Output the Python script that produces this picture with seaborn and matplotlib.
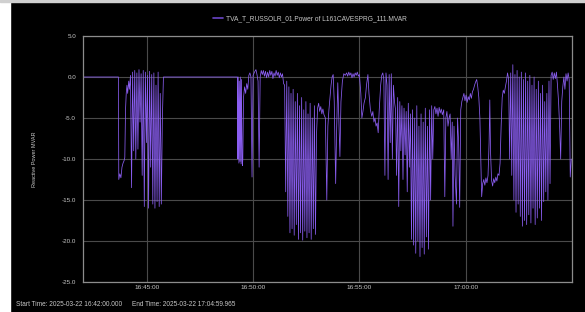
import pandas as pd
import matplotlib
matplotlib.use('Agg')
import matplotlib.pyplot as plt
import matplotlib.dates as mdates
from matplotlib.patches import Rectangle
import seaborn as sns

# Тексты графика
START = '2025-03-22 16:42:00.000'
END = '2025-03-22 17:04:59.965'
SERIES = 'TVA_T_RUSSOLR_01.Power of L161CAVESPRG_111.MVAR'
Y_LABEL = 'Reactive Power MVAR'
Y_TICKS = [5.0, 0.0, -5.0, -10.0, -15.0, -20.0, -25.0]
X_TICKS = ['16:45:00', '16:50:00', '16:55:00', '17:00:00']

# Секунды от начала записи и значения MVAR
t_sec = [
    0, 1, 100,
    101, 104, 107, 110, 113, 116, 118, 120, 122, 124,
    126, 129, 131, 134, 137, 140, 143, 146, 149, 152, 155, 158, 161, 164, 167, 170, 173, 176,
    179, 182, 185, 188, 191, 194, 197, 200, 203, 206, 209, 212, 215, 218, 221, 224, 227,
    228, 436,
    437, 438, 440, 441, 443, 444, 446, 447, 449, 450, 451,
    453, 456, 459, 462, 465, 468, 471, 474, 477, 480, 484, 488, 491, 494, 497, 500, 503,
    506, 509, 512, 515, 518, 521, 524, 527, 530, 533, 536, 539, 542, 545, 548, 551, 554, 557,
    560, 563, 566,
    569, 572, 575, 578, 581, 584, 587, 590, 593, 596, 599, 602, 605, 608, 611, 614, 617, 620,
    623, 626, 629, 632, 635, 638, 641, 644, 647, 650, 653, 656, 659,
    662, 665, 668, 671, 674, 677, 680, 684, 688, 691, 694, 697, 700, 703, 706, 709, 713, 716,
    719, 722, 725, 728, 732, 736,
    740, 744, 747, 750, 753, 756, 759, 762, 765, 768, 771, 774, 777, 780, 784, 787, 790, 793,
    797, 800, 804, 807,
    811, 815, 818, 821, 824, 827, 830, 833, 836, 840, 843, 846, 849, 852, 855, 858, 861, 864,
    867, 870, 873, 876, 879,
    882, 885, 888, 891, 894, 897, 900, 903, 906, 909, 912, 915, 918, 921, 924,
    927, 930, 933, 936, 939, 942, 945, 948, 951, 954, 957, 960, 963, 966, 969, 972, 975, 978,
    981, 984, 987,
    990, 993, 996, 999, 1002, 1005, 1008, 1011, 1014,
    1018, 1021, 1024, 1027, 1030, 1033, 1036, 1039, 1042, 1044, 1047, 1050, 1054, 1057, 1060,
    1063, 1066, 1069,
    1072, 1075, 1078, 1081, 1084, 1087, 1090, 1093, 1096, 1099, 1102, 1105, 1108, 1111, 1114,
    1117, 1120,
    1125, 1128, 1131, 1134, 1137, 1140, 1143, 1146, 1148, 1150, 1153, 1156, 1159, 1162, 1165,
    1168, 1171, 1174, 1177, 1180,
    1183, 1186, 1189, 1192, 1195, 1198, 1201,
    1204, 1207, 1210, 1213, 1216, 1219, 1222, 1225, 1228, 1231, 1234, 1237, 1240, 1243, 1246,
    1249, 1252, 1255, 1258, 1261, 1264, 1267, 1270, 1273, 1276, 1279, 1282, 1285, 1288, 1291,
    1294, 1297, 1300, 1303, 1306, 1309, 1312, 1315,
    1318, 1321, 1324, 1327, 1330, 1333, 1336, 1339, 1342, 1345, 1348, 1351, 1354, 1357, 1360,
    1363, 1366, 1369, 1372, 1375, 1378,
]
mvar = [
    -19.5, 0.0, 0.0,
    -12.5, -11.8, -12.3, -11.0, -10.5, -10.2, -9.8, -4.0, -2.0, -1.0,
    -2.0, -0.5, -1.5, 0.2, -13.5, 0.6, -9.0, 0.8, -10.0, 0.5, -8.8, 0.9, -5.5, 0.4, -12.0, 0.8, -15.8, 0.6,
    -8.0, 0.2, -16.0, 0.7, -11.0, 0.3, -15.5, 0.5, -16.0, -1.0, -15.2, 0.6, -15.8, -2.0, -15.5, -5.0, 0.0,
    0.0, 0.0,
    -10.0, 0.0, -10.5, -0.5, -10.3, 0.0, -10.6, -0.3, -10.2, -10.8, -10.0,
    -2.5, -1.2, -2.0, -0.8, -1.5, 0.2, 0.5, 0.0, -12.2, 0.2, 0.6, 0.9, 0.3, -0.5, -11.0, 0.0, 0.8,
    0.3, 0.8, 0.1, 0.7, -0.1, 0.6, 0.0, 0.8, 0.2, 0.7, -0.2, 0.5, 0.1, 0.8, 0.2, 0.6, -0.1, 0.5,
    0.0, 0.4, -0.8,
    -1.0, -14.0, -0.5, -17.0, -1.2, -19.0, -2.0, -18.5, -1.5, -19.3, -3.0, -18.0, -2.0, -19.8, -3.5, -19.0, -2.5, -19.9,
    -4.0, -18.8, -3.0, -19.6, -4.5, -19.0, -3.2, -19.8, -5.0, -18.5, -3.5, -19.2, -7.0,
    -3.8, -3.2, -4.2, -3.6, -4.5, -3.9, -4.6, -5.0, -15.0, -6.0, -4.0, -2.5, -1.0, 0.0, 0.3, -3.0, -13.0, -6.0,
    -0.7, -5.0, -9.7, -3.0, -0.5, 0.4,
    0.2, 0.5, 0.1, 0.6, 0.2, 0.5, -0.1, 0.4, 0.0, 0.5, 0.2, 0.6, 0.1, 0.3, -2.0, -5.0, -4.2, -3.2,
    -2.5, -1.0, 0.3, -2.0,
    -4.0, -4.8, -4.2, -5.5, -5.0, -6.0, -5.6, -6.8, -4.0, -1.0, 0.2, 0.5, -0.3, -12.0, 0.5, -1.0, -12.5, 0.3,
    -8.0, 0.4, -10.0, -1.0, -3.0,
    -4.0, -12.0, -2.5, -15.8, -3.0, -9.0, -3.5, -12.5, -3.8, -9.5, -4.2, -14.0, -3.2, -11.0, -4.5,
    -19.8, -4.0, -20.5, -5.0, -21.5, -3.5, -20.0, -6.0, -21.9, -4.5, -20.8, -5.5, -21.6, -3.8, -19.5, -6.0, -21.0, -4.0,
    -15.0, -3.5, -10.0,
    -4.0, -3.6, -4.5, -3.8, -4.8, -3.7, -4.4, -3.9, -4.6,
    -4.0, -14.6, -5.0, -4.2, -6.0, -5.0, -4.5, -10.0, -5.5, -18.2, -6.0, -12.0, -15.5, -5.0, -8.0,
    -15.9, -4.0, -3.0,
    -2.5, -2.0, -2.9, -2.2, -3.1, -2.4, -2.8, -2.0, -2.6, -1.8, -1.5, -1.0, -0.6, -0.3, -1.2,
    -2.5, -5.0,
    -14.6, -13.0, -12.5, -13.2, -12.3, -12.9, -12.0, -8.0, -2.8, -9.0, -12.6, -13.3, -12.4, -12.9, -12.2,
    -12.7, -11.8, -12.0, -10.5, -6.0,
    -2.5, -1.6, -2.0, -1.2, -0.5, 0.5, -0.2,
    -10.0, 0.5, -12.0, 1.5, -15.0, 0.3, -16.5, 0.8, -15.5, 0.0, -17.0, 0.6, -18.2, -0.3, -17.5,
    0.5, -18.0, -0.5, -16.8, 0.2, -17.8, -1.0, -16.0, 0.0, -18.0, -1.5, -17.2, -0.5, -16.0, -2.0,
    -17.5, -1.0, -15.2, -3.0, -14.0, -2.0, -15.0, -0.5,
    -13.0, 0.2, 0.6, -0.3, 0.5, -0.2, 0.6, -1.0, -3.0, -6.0, -10.0, -3.0, -1.2, 0.0, -1.5,
    0.4, -0.5, 0.5, -0.3, -12.2, -10.0,
]
assert len(t_sec) == len(mvar)

LINE_COLOR = '#8b5ef2'
TEXT_COLOR = '#c8c8c8'

sns.set_theme(style='dark', rc={
    'axes.facecolor': 'black',
    'figure.facecolor': 'black',
    'axes.edgecolor': '#8c8c8c',
    'grid.color': '#4a4a4a',
})
plt.rcParams['font.family'] = ['Liberation Sans', 'DejaVu Sans']

start = pd.Timestamp(START)
df = pd.DataFrame({'time': start + pd.to_timedelta(t_sec, unit='s'), 'mvar': mvar})

fig = plt.figure(figsize=(5.85, 3.12), dpi=100, facecolor='black')
ax = fig.add_axes([83 / 585, 30 / 312, 489 / 585, 246 / 312])

sns.lineplot(data=df, x='time', y='mvar', ax=ax, estimator=None, sort=False,
             color=LINE_COLOR, linewidth=0.55, label=SERIES)

ax.set_xlim(start, pd.Timestamp(END))
ax.set_ylim(-25, 5)
ax.set_yticks(Y_TICKS)
ax.set_yticklabels([f'{v:.1f}' for v in Y_TICKS])
ax.set_xticks([pd.Timestamp('2025-03-22 ' + s) for s in X_TICKS])
ax.xaxis.set_major_formatter(mdates.DateFormatter('%H:%M:%S'))
ax.tick_params(axis='y', labelsize=4.5, colors=TEXT_COLOR, length=0, pad=5)
ax.tick_params(axis='x', labelsize=4.6, colors=TEXT_COLOR, length=0, pad=2.5)
ax.grid(True, color='#4a4a4a', linewidth=0.8)
for s in ax.spines.values():
    s.set_visible(True)
    s.set_color('#8c8c8c')
    s.set_linewidth(0.9)
ax.set_xlabel('')
ax.set_ylabel(Y_LABEL, fontsize=4, color=TEXT_COLOR)
ax.yaxis.set_label_coords(-0.094, 0.5)

handles, labels = ax.get_legend_handles_labels()
ax.get_legend().remove()
leg = fig.legend(handles, labels, loc='center', bbox_to_anchor=(310 / 585, 1 - 18.7 / 312),
                 frameon=False, fontsize=4.8, labelcolor=TEXT_COLOR,
                 handlelength=1.4, handletextpad=0.5)
leg.get_lines()[0].set_color('#6a45c8')
leg.get_lines()[0].set_linewidth(1.2)

# рамка скриншота слева и сверху
fig.patches.append(Rectangle((0, 0), 10 / 585, 1, transform=fig.transFigure,
                             color='white', zorder=-1))
fig.patches.append(Rectangle((0, 310 / 312), 1, 2 / 312, transform=fig.transFigure,
                             color='#d0d0d0', zorder=-1))

fig.text(16 / 585, 1 - 305 / 312, 'Start Time: ' + START, fontsize=4.7,
         color=TEXT_COLOR, va='center')
fig.text(132 / 585, 1 - 305 / 312, 'End Time: ' + END, fontsize=4.7,
         color=TEXT_COLOR, va='center')

fig.savefig('out.png', dpi=100, facecolor=fig.get_facecolor())
